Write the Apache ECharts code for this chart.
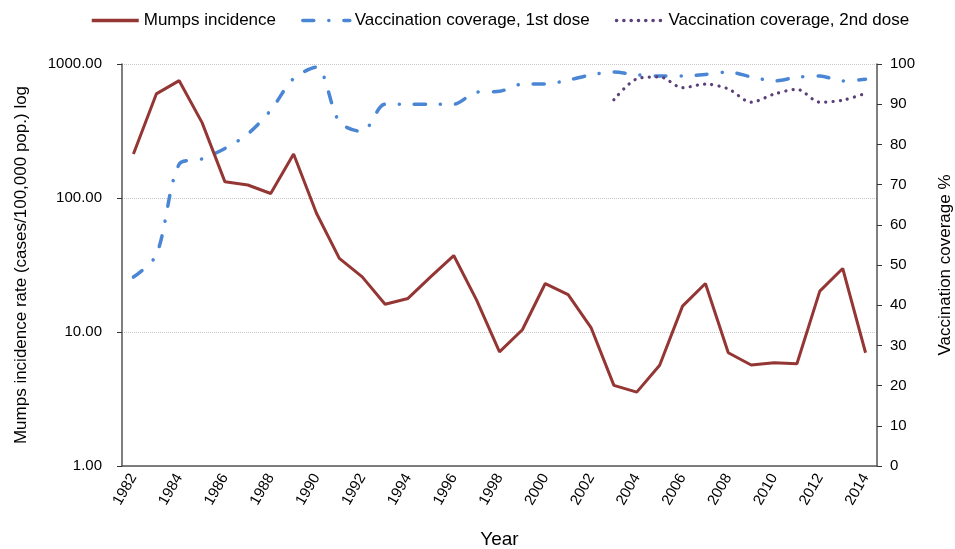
<!DOCTYPE html>
<html>
<head>
<meta charset="utf-8">
<script src="https://cdn.jsdelivr.net/npm/echarts@6/dist/echarts.min.js"></script>
<style>
  html, body { margin: 0; padding: 0; background: #fff; }
  #main { width: 955px; height: 549px; }
</style>
</head>
<body>
<div id="main"></div>
<script>
var years = ['1982', '1983', '1984', '1985', '1986', '1987', '1988', '1989', '1990', '1991',
    '1992', '1993', '1994', '1995', '1996', '1997', '1998', '1999', '2000', '2001', '2002',
    '2003', '2004', '2005', '2006', '2007', '2008', '2009', '2010', '2011', '2012', '2013', '2014'];

// cases / 100,000 pop.
var mumps = [213, 598, 751, 365, 132, 125, 108, 213, 77, 35.4,
    25.8, 16.1, 17.8, 25.9, 37.2, 17.3, 7.1, 10.4, 23, 19, 10.8,
    4.0, 3.56, 5.64, 15.6, 23, 7.0, 5.67, 5.9, 5.8, 20.2, 29.8, 7.0];

// coverage %
var dose1 = [47, 52.5, 75.1, 76.4, 79, 82.6, 88.5, 96.4, 99.2, 85.6,
    83.2, 90, 90, 90, 90, 93, 93.2, 95, 95, 96, 97.3,
    98, 97.3, 97, 97, 97.4, 98, 96.8, 95.8, 96.7, 97, 95.8, 96.2];

var dose2 = [null, null, null, null, null, null, null, null, null, null,
    null, null, null, null, null, null, null, null, null, null, null,
    91.1, 96.3, 96.8, 94.1, 95, 93.8, 90.5, 92.5, 93.7, 90.5, 91, 92.7];

var chart = echarts.init(document.getElementById('main'));

var font = 'Liberation Sans, Arial, sans-serif';

var option = {
    animation: false,
    textStyle: { fontFamily: font, color: '#000' },
    legend: {
        top: 7,
        left: 85,
        itemWidth: 47,
        itemHeight: 14,
        itemGap: 25,
        itemStyle: { opacity: 0 },   // hide the round marker, keep the line
        lineStyle: { width: 3.5 },
        textStyle: { fontSize: 17, color: '#000', fontFamily: font },
        data: ['Mumps incidence', 'Vaccination coverage, 1st dose', 'Vaccination coverage, 2nd dose']
    },
    grid: {
        left: 122,
        right: 78,
        top: 64,
        bottom: 83,
        containLabel: false,
        outerBoundsMode: 'none'
    },
    xAxis: {
        type: 'category',
        data: years,
        boundaryGap: true,
        name: 'Year',
        nameLocation: 'middle',
        nameGap: 64,
        nameTextStyle: { fontSize: 19, color: '#000', fontFamily: font },
        axisLine: { lineStyle: { color: '#555', width: 1.5 } },
        axisTick: { interval: 0, length: 5, lineStyle: { color: '#333' } },
        axisLabel: {
            interval: 1,
            rotate: 60,
            fontSize: 15,
            color: '#000',
            margin: 9
        },
        splitLine: { show: false }
    },
    yAxis: [
        {
            type: 'log',
            logBase: 10,
            min: 1,
            max: 1000,
            name: 'Mumps incidence rate (cases/100,000 pop.) log',
            nameLocation: 'middle',
            nameGap: 92,
            nameTextStyle: { fontSize: 17, color: '#000', fontFamily: font },
            axisLine: { show: true, lineStyle: { color: '#555', width: 1.5 } },
            axisTick: { show: true, length: 5, lineStyle: { color: '#333' } },
            axisLabel: {
                fontSize: 15,
                color: '#000',
                margin: 20,
                formatter: function (v) { return v.toFixed(2); }
            },
            splitLine: { show: true, lineStyle: { color: '#c8c8c8', type: 'dotted', width: 1 } },
            minorTick: { show: false }
        },
        {
            type: 'value',
            min: 0,
            max: 100,
            interval: 10,
            position: 'right',
            name: 'Vaccination coverage %',
            nameLocation: 'middle',
            nameGap: 60,
            nameRotate: 90,
            nameTextStyle: { fontSize: 17, color: '#000', fontFamily: font },
            axisLine: { show: true, lineStyle: { color: '#555', width: 1.5 } },
            axisTick: { show: true, length: 5, lineStyle: { color: '#333' } },
            axisLabel: { fontSize: 15, color: '#000', margin: 13 },
            splitLine: { show: false }
        }
    ],
    series: [
        {
            name: 'Mumps incidence',
            type: 'line',
            yAxisIndex: 0,
            data: mumps,
            symbol: 'none',
            lineStyle: { color: '#943634', width: 3 },
            itemStyle: { color: '#943634' },
            z: 3
        },
        {
            name: 'Vaccination coverage, 1st dose',
            type: 'line',
            yAxisIndex: 1,
            data: dose1,
            symbol: 'none',
            smooth: 0.3,
            lineStyle: { color: '#4a86d4', width: 3.5, type: [11, 15, 0.1, 15], cap: 'round' },
            itemStyle: { color: '#4a86d4' },
            z: 2
        },
        {
            name: 'Vaccination coverage, 2nd dose',
            type: 'line',
            yAxisIndex: 1,
            data: dose2,
            symbol: 'none',
            smooth: 0.3,
            lineStyle: { color: '#5b3f78', width: 3.2, type: [0.1, 7.2], cap: 'round' },
            itemStyle: { color: '#5b3f78' },
            z: 2
        }
    ]
};
chart.setOption(option);
</script>
</body>
</html>
